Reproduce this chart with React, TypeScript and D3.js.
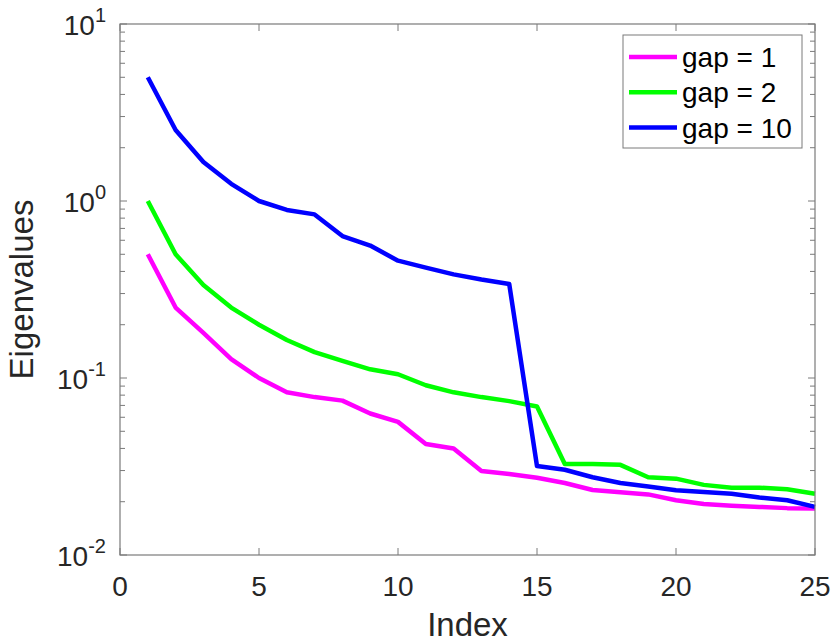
import React from "react";
import * as d3 from "d3";

const indices = d3.range(1, 26);
const gap1 = [0.5, 0.25, 0.18, 0.128, 0.1, 0.083, 0.078, 0.0745, 0.063, 0.0565, 0.0424, 0.04, 0.0298, 0.0287, 0.0273, 0.0255, 0.0233, 0.0226, 0.022, 0.0204, 0.0194, 0.019, 0.0187, 0.0184, 0.0183];
const gap2 = [1.0, 0.5, 0.335, 0.25, 0.2, 0.164, 0.14, 0.125, 0.112, 0.105, 0.091, 0.083, 0.078, 0.074, 0.069, 0.0327, 0.0327, 0.0323, 0.0275, 0.027, 0.0249, 0.024, 0.024, 0.0235, 0.0222];
const gap10 = [5.0, 2.52, 1.66, 1.25, 1.0, 0.89, 0.84, 0.634, 0.56, 0.46, 0.42, 0.385, 0.36, 0.34, 0.0318, 0.0303, 0.0275, 0.0255, 0.0244, 0.0232, 0.0227, 0.0222, 0.0211, 0.0204, 0.0187];
const seriesNames = ["gap = 1", "gap = 2", "gap = 10"];
const seriesColors = ["#ff00ff", "#00ff00", "#0000ff"];
const xTicks = [0, 5, 10, 15, 20, 25];
const yExponents = [-2, -1, 0, 1];

export default function App() {
  const W = 834, H = 644;
  const L = 120, R = 815, T = 24, B = 555;
  const x = d3.scaleLinear().domain([0, 25]).range([L, R]);
  const y = d3.scaleLog().domain([0.01, 10]).range([B, T]);
  const series = [gap1, gap2, gap10];
  const line = d3.line<number>().x((_, i) => x(indices[i])).y((d) => y(d));
  const axisColor = "#7a7a7a";
  const textColor = "#262626";
  const font = "'Liberation Sans', Arial, Helvetica, sans-serif";
  const minor: number[] = [];
  for (let e = -2; e < 1; e++) for (let m = 2; m <= 9; m++) minor.push(m * Math.pow(10, e));

  return (
    <svg width={W} height={H} style={{ position: "absolute", left: 0, top: 0, background: "#fff" }} fontFamily={font}>
      <rect x={0} y={0} width={W} height={H} fill="#fff" />
      {series.map((s, k) => (
        <path key={k} d={line(s) || ""} fill="none" stroke={seriesColors[k]} strokeWidth={4.5} strokeLinejoin="round" />
      ))}
      <rect x={L} y={T} width={R - L} height={B - T} fill="none" stroke={axisColor} strokeWidth={1.2} />
      {xTicks.map((t) => (
        <g key={"x" + t}>
          <line x1={x(t)} x2={x(t)} y1={B} y2={B - 7} stroke={axisColor} strokeWidth={1} />
          <line x1={x(t)} x2={x(t)} y1={T} y2={T + 7} stroke={axisColor} strokeWidth={1} />
          <text x={x(t)} y={596} textAnchor="middle" fontSize={28} fill={textColor}>{t}</text>
        </g>
      ))}
      {yExponents.map((e) => (
        <g key={"y" + e}>
          <line x1={L} x2={L + 7} y1={y(Math.pow(10, e))} y2={y(Math.pow(10, e))} stroke={axisColor} strokeWidth={1} />
          <line x1={R} x2={R - 7} y1={y(Math.pow(10, e))} y2={y(Math.pow(10, e))} stroke={axisColor} strokeWidth={1} />
          <text x={106} y={y(Math.pow(10, e)) + 11} textAnchor="end" fontSize={28} fill={textColor}>
            10<tspan dy={-13} fontSize={20}>{e}</tspan>
          </text>
        </g>
      ))}
      {minor.map((v, i) => (
        <g key={"m" + i}>
          <line x1={L} x2={L + 5} y1={y(v)} y2={y(v)} stroke={axisColor} strokeWidth={1} />
          <line x1={R} x2={R - 5} y1={y(v)} y2={y(v)} stroke={axisColor} strokeWidth={1} />
        </g>
      ))}
      <text x={(L + R) / 2} y={636} textAnchor="middle" fontSize={33} fill={textColor}>Index</text>
      <text transform={`translate(33,${(T + B) / 2}) rotate(-90)`} textAnchor="middle" fontSize={33} fill={textColor}>Eigenvalues</text>
      <g>
        <rect x={623} y={35} width={179} height={113} fill="#fff" stroke={axisColor} strokeWidth={1} />
        {seriesNames.map((n, k) => (
          <g key={n}>
            <line x1={629} x2={677} y1={57 + k * 35.3} y2={57 + k * 35.3} stroke={seriesColors[k]} strokeWidth={4.5} />
            <text x={682} y={57 + k * 35.3 + 10} fontSize={28} fill="#000">{n}</text>
          </g>
        ))}
      </g>
    </svg>
  );
}
